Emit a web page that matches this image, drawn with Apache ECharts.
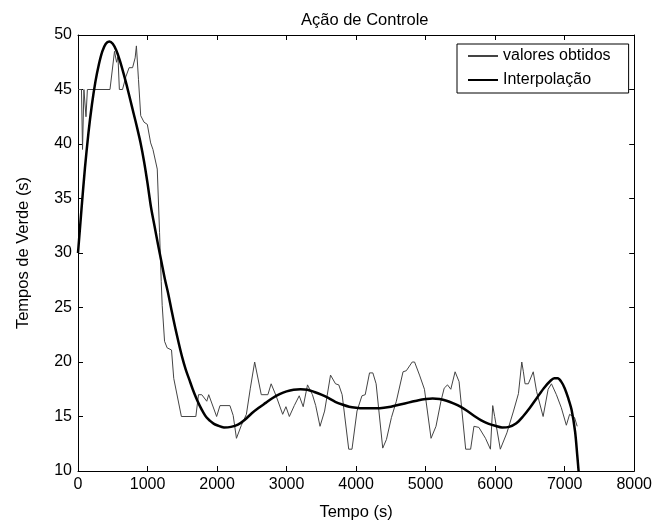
<!DOCTYPE html>
<html>
<head>
<meta charset="utf-8">
<script src="https://cdn.jsdelivr.net/npm/echarts@6/dist/echarts.min.js"></script>
<style>
html,body{margin:0;padding:0;background:#fff;}
#chart{width:655px;height:526px;}
</style>
</head>
<body>
<div id="chart"></div>
<script>
// "valores obtidos" (time s, green time s)
const obtidosT = [0,50,65,85,115,135,460,525,555,575,595,640,690,735,785,822,840,870,902,950,997,1045,1078,1140,1173,1197,1211,1245,1282,1345,1377,1487,1695,1733,1780,1852,1880,1994,2042,2185,2232,2279,2350,2422,2479,2541,2636,2731,2778,2849,2944,2991,3040,3111,3182,3239,3301,3372,3419,3481,3547,3632,3704,3751,3799,3894,3941,4013,4084,4131,4193,4241,4288,4383,4437,4508,4579,4675,4722,4807,4841,4912,4983,5078,5149,5220,5267,5315,5362,5424,5481,5576,5647,5695,5766,5861,5932,5965,5993,6074,6169,6264,6335,6383,6406,6430,6477,6548,6596,6690,6762,6810,6881,6952,7024,7071,7142,7180];
const obtidosV = [45,45,39.5,45,42.5,45,45,48.5,47.5,48,45,45,46.2,47,47,47.9,49,45.9,42.6,42,41.8,40.1,39.5,37.7,31.9,27.4,25.2,21.9,21.3,21.1,18.5,15,15,17,17,16.4,17,15,16,16,15.1,13,14.2,15.2,17.6,20,17,17,18,16.9,15.2,15.9,15,16,16.9,15.9,17.9,17,16,14.1,15.5,18.8,18,17.9,17,12,12,15.5,16.9,17,19,19,18,12.1,12.9,14.9,16.4,19.1,19.2,20,20,18.8,17.5,13,14.1,16.4,17.6,17.9,17.5,19.1,18.2,12,12,14.1,14,13,12,16,15,12,13.5,15.5,17.1,20,19.1,18,18,19.1,17.3,15,17.5,18,17,15.8,14.2,15.2,14.9,14.1];
// "Interpolação"
const interpT = [0,50,100,150,200,250,300,350,400,450,500,550,600,650,700,750,800,850,900,950,1000,1050,1100,1150,1200,1250,1300,1350,1400,1450,1500,1550,1600,1650,1700,1750,1800,1850,1900,1950,2000,2100,2200,2300,2400,2500,2600,2700,2800,2900,3000,3100,3200,3300,3400,3500,3600,3700,3800,3900,4000,4100,4200,4300,4400,4500,4600,4700,4800,4900,5000,5100,5200,5300,5400,5500,5600,5700,5800,5900,6000,6100,6200,6300,6400,6500,6600,6700,6800,6850,6900,6950,7000,7050,7100,7150,7180,7200];
const interpV = [30,34,37.8,41,43.6,45.7,47.3,48.5,49.2,49.4,49.2,48.6,47.7,46.6,45.4,44.1,42.8,41.5,40.1,38.4,36.4,34.2,32.5,30.8,29.2,27.6,26.2,24.6,23.1,21.7,20.4,19.3,18.4,17.5,16.7,16.0,15.4,14.9,14.6,14.35,14.2,14.0,14.05,14.25,14.7,15.3,15.8,16.25,16.7,17.05,17.3,17.45,17.5,17.45,17.25,17.0,16.7,16.35,16.1,15.9,15.8,15.75,15.75,15.75,15.8,15.9,16.05,16.2,16.35,16.5,16.6,16.65,16.6,16.45,16.2,15.9,15.5,15.05,14.65,14.35,14.15,14.0,14.05,14.35,15.0,15.8,16.7,17.6,18.3,18.5,18.5,18.2,17.6,16.7,15.6,13.6,11.5,10];

const seriesNames = ['valores obtidos', 'Interpolação'];
const titleText = 'Ação de Controle';
const xName = 'Tempo (s)';
const yName = 'Tempos de Verde (s)';

const zip = (a, b) => a.map((v, i) => [v, b[i]]);
const FONT = '"Liberation Sans", Arial, Helvetica, sans-serif';
const plain = v => String(v);

const chart = echarts.init(document.getElementById('chart'), null, {renderer: 'canvas'});
const axisCommon = {
  axisLine: {show: true, onZero: false, lineStyle: {color: '#000', width: 1}},
  axisTick: {show: true, inside: true, length: 5, lineStyle: {color: '#000'}},
  splitLine: {show: false}
};
chart.setOption({
  animation: false,
  backgroundColor: '#fff',
  title: {
    text: titleText, left: 296, top: 7,
    textStyle: {fontFamily: FONT, fontSize: 16.5, fontWeight: 'normal', color: '#000'}
  },
  legend: {
    data: seriesNames,
    left: 457, top: 44,
    orient: 'vertical',
    backgroundColor: '#fff',
    borderColor: '#000', borderWidth: 1, borderRadius: 0,
    padding: [4, 18, 5, 10],
    itemWidth: 30, itemHeight: 14, itemGap: 8,
    itemStyle: {opacity: 0},
    textStyle: {fontFamily: FONT, fontSize: 16, color: '#000'}
  },
  grid: {left: 78, right: 16, top: 35, bottom: 53, containLabel: false},
  xAxis: [
    Object.assign({
      type: 'value', min: 0, max: 8000, interval: 1000, position: 'bottom',
      name: xName, nameLocation: 'middle', nameGap: 33,
      nameTextStyle: {fontFamily: FONT, fontSize: 16.5, color: '#000'},
      axisLabel: {fontFamily: FONT, fontSize: 16, color: '#000', margin: 6, formatter: plain}
    }, axisCommon),
    Object.assign({
      type: 'value', min: 0, max: 8000, interval: 1000, position: 'top',
      axisLabel: {show: false}
    }, axisCommon)
  ],
  yAxis: [
    Object.assign({
      type: 'value', min: 10, max: 50, interval: 5, position: 'left',
      name: yName, nameLocation: 'middle', nameGap: 46, nameRotate: 90,
      nameTextStyle: {fontFamily: FONT, fontSize: 16.5, color: '#000'},
      axisLabel: {fontFamily: FONT, fontSize: 16, color: '#000', margin: 6, formatter: plain}
    }, axisCommon),
    Object.assign({
      type: 'value', min: 10, max: 50, interval: 5, position: 'right',
      axisLabel: {show: false}
    }, axisCommon)
  ],
  series: [
    {
      name: seriesNames[0], type: 'line', xAxisIndex: 0, yAxisIndex: 0,
      data: zip(obtidosT, obtidosV),
      symbol: 'none', showSymbol: false,
      lineStyle: {color: '#444', width: 1},
      itemStyle: {color: '#444'},
      z: 2
    },
    {
      name: seriesNames[1], type: 'line', xAxisIndex: 0, yAxisIndex: 0,
      data: zip(interpT, interpV),
      symbol: 'none', showSymbol: false, smooth: 0.3,
      lineStyle: {color: '#000', width: 2.5},
      itemStyle: {color: '#000'},
      z: 3
    }
  ]
});
</script>
</body>
</html>
